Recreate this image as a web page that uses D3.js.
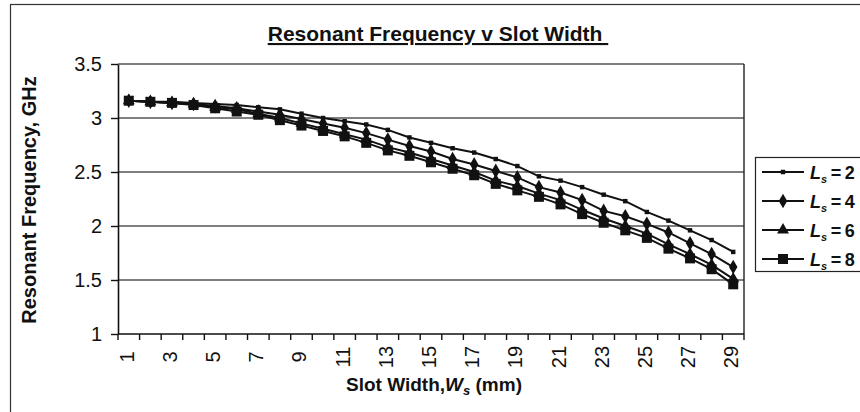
<!DOCTYPE html>
<html><head><meta charset="utf-8">
<script src="https://cdn.jsdelivr.net/npm/d3@7"></script>
<style>
body{margin:0;background:#fff;}
svg text{font-family:"Liberation Sans",Arial,sans-serif;fill:#111;}
</style></head>
<body><svg id="c" width="860" height="412"></svg>
<script>
const categories = d3.range(1, 30);
const xTickLabels = [1,3,5,7,9,11,13,15,17,19,21,23,25,27,29];
const yTicks = [1, 1.5, 2, 2.5, 3, 3.5];
const seriesNames = ["2", "4", "6", "8"];
const ls2 = [3.16,3.15,3.15,3.14,3.13,3.12,3.10,3.08,3.04,3.00,2.97,2.94,2.89,2.82,2.77,2.72,2.68,2.62,2.555,2.46,2.42,2.36,2.29,2.23,2.13,2.05,1.96,1.87,1.76];
const ls4 = [3.16,3.15,3.14,3.13,3.11,3.09,3.06,3.03,2.99,2.95,2.91,2.86,2.80,2.74,2.69,2.62,2.57,2.51,2.45,2.36,2.31,2.24,2.14,2.09,2.02,1.94,1.84,1.74,1.62];
const ls6 = [3.16,3.15,3.14,3.13,3.10,3.08,3.04,3.00,2.95,2.90,2.85,2.80,2.73,2.68,2.62,2.56,2.50,2.42,2.37,2.30,2.24,2.15,2.07,2.00,1.93,1.83,1.74,1.64,1.51];
const ls8 = [3.16,3.15,3.14,3.12,3.09,3.06,3.03,2.98,2.93,2.88,2.83,2.77,2.70,2.65,2.59,2.53,2.47,2.39,2.33,2.27,2.20,2.11,2.03,1.96,1.89,1.79,1.70,1.60,1.46];

const series = [
  {name: seriesNames[0], values: ls2, sym: d3.symbolSquare, size: 20},
  {name: seriesNames[1], values: ls4, sym: d3.symbolDiamond, size: 62},
  {name: seriesNames[2], values: ls6, sym: d3.symbolTriangle, size: 62},
  {name: seriesNames[3], values: ls8, sym: d3.symbolSquare, size: 100}
];

const svg = d3.select("#c");
const L = 118, R = 744, T = 64, B = 334;

svg.append("rect").attr("x",0).attr("y",0).attr("width",860).attr("height",412).attr("fill","#fff");
// outer chart border
svg.append("rect").attr("x",10.5).attr("y",4.5).attr("width",900).attr("height",450)
  .attr("fill","none").attr("stroke","#333").attr("stroke-width",1.2);

const x = d3.scaleBand().domain(categories).range([L, R]).paddingInner(0).paddingOuter(0);
const cx = d => x(d) + x.bandwidth()/2;
const y = d3.scaleLinear().domain([1, 3.5]).range([B, T]);

// gridlines
svg.append("g").selectAll("line").data(yTicks.filter(t => t > 1))
  .join("line").attr("x1", L).attr("x2", R).attr("y1", d => y(d)).attr("y2", d => y(d))
  .attr("stroke", "#555").attr("stroke-width", 1.6);
// right border
svg.append("line").attr("x1", R).attr("x2", R).attr("y1", T).attr("y2", B)
  .attr("stroke", "#222").attr("stroke-width", 1.4);

// y axis
const yAxis = svg.append("g").attr("transform", `translate(${L},0)`)
  .call(d3.axisLeft(y).tickValues(yTicks).tickFormat(d3.format("")).tickSize(7).tickSizeOuter(0).tickPadding(9));
yAxis.select(".domain").attr("stroke", "#111").attr("stroke-width", 1.6);
yAxis.selectAll(".tick line").attr("stroke", "#111").attr("stroke-width", 1.4);
yAxis.selectAll(".tick text").style("font-size", "20px").attr("fill", "#111");

// x axis: ticks at band boundaries
const xg = svg.append("g");
xg.append("line").attr("x1", L).attr("x2", R).attr("y1", B).attr("y2", B).attr("stroke", "#111").attr("stroke-width", 1.6);
xg.selectAll("line.t").data(categories.concat([30]))
  .join("line").attr("class","t")
  .attr("x1", d => d === 30 ? R : x(d)).attr("x2", d => d === 30 ? R : x(d))
  .attr("y1", B).attr("y2", B + 6).attr("stroke", "#111").attr("stroke-width", 1.4);
xg.selectAll("text").data(xTickLabels)
  .join("text")
  .attr("transform", d => `translate(${cx(d) - 2},357) rotate(-90)`)
  .attr("text-anchor", "middle").attr("dy", "0.35em")
  .style("font-size", "20px").text(d => d);

// lines and markers
const line = d3.line().x((v, i) => cx(categories[i])).y(v => y(v));
series.forEach(s => {
  svg.append("path").datum(s.values).attr("d", line)
    .attr("fill", "none").attr("stroke", "#111").attr("stroke-width", 2);
  svg.append("g").selectAll("path").data(s.values).join("path")
    .attr("transform", (v, i) => `translate(${cx(categories[i])},${y(v)})`)
    .attr("d", d3.symbol().type(s.sym).size(s.size)).attr("fill", "#111");
});

// title
svg.append("text").attr("x", 438).attr("y", 41).attr("text-anchor", "middle")
  .style("font-size", "21px").style("font-weight", "bold").style("text-decoration", "underline")
  .text("Resonant Frequency v Slot Width\u00a0");

// axis titles
const xt = svg.append("text").attr("x", 434).attr("y", 391).attr("text-anchor", "middle")
  .style("font-size", "19px").style("font-weight", "bold");
xt.append("tspan").text("Slot Width,");
xt.append("tspan").style("font-style", "italic").text("W");
xt.append("tspan").style("font-style", "italic").style("font-size", "13px").attr("dy", 4).text("s");
xt.append("tspan").attr("dy", -4).text(" (mm)");

svg.append("text").attr("transform", "translate(36,200) rotate(-90)").attr("text-anchor", "middle")
  .style("font-size", "20px").style("font-weight", "bold").text("Resonant Frequency, GHz");

// legend
const lg = svg.append("g");
lg.append("rect").attr("x", 755.5).attr("y", 157.5).attr("width", 130).attr("height", 114)
  .attr("fill", "#fff").attr("stroke", "#222").attr("stroke-width", 1.2);
series.forEach((s, i) => {
  const yy = 172 + i * 29;
  lg.append("line").attr("x1", 762).attr("x2", 804).attr("y1", yy).attr("y2", yy)
    .attr("stroke", "#111").attr("stroke-width", 2);
  lg.append("path").attr("transform", `translate(783,${yy})`)
    .attr("d", d3.symbol().type(s.sym).size(s.size)).attr("fill", "#111");
  const t = lg.append("text").attr("x", 810).attr("y", yy + 7)
    .style("font-size", "18px").style("font-weight", "bold");
  t.append("tspan").style("font-style", "italic").text("L");
  t.append("tspan").style("font-style", "italic").style("font-size", "11px").attr("dy", 4).text("s");
  t.append("tspan").attr("dy", -4).text("\u2009=\u2009" + s.name);
});
</script></body></html>
